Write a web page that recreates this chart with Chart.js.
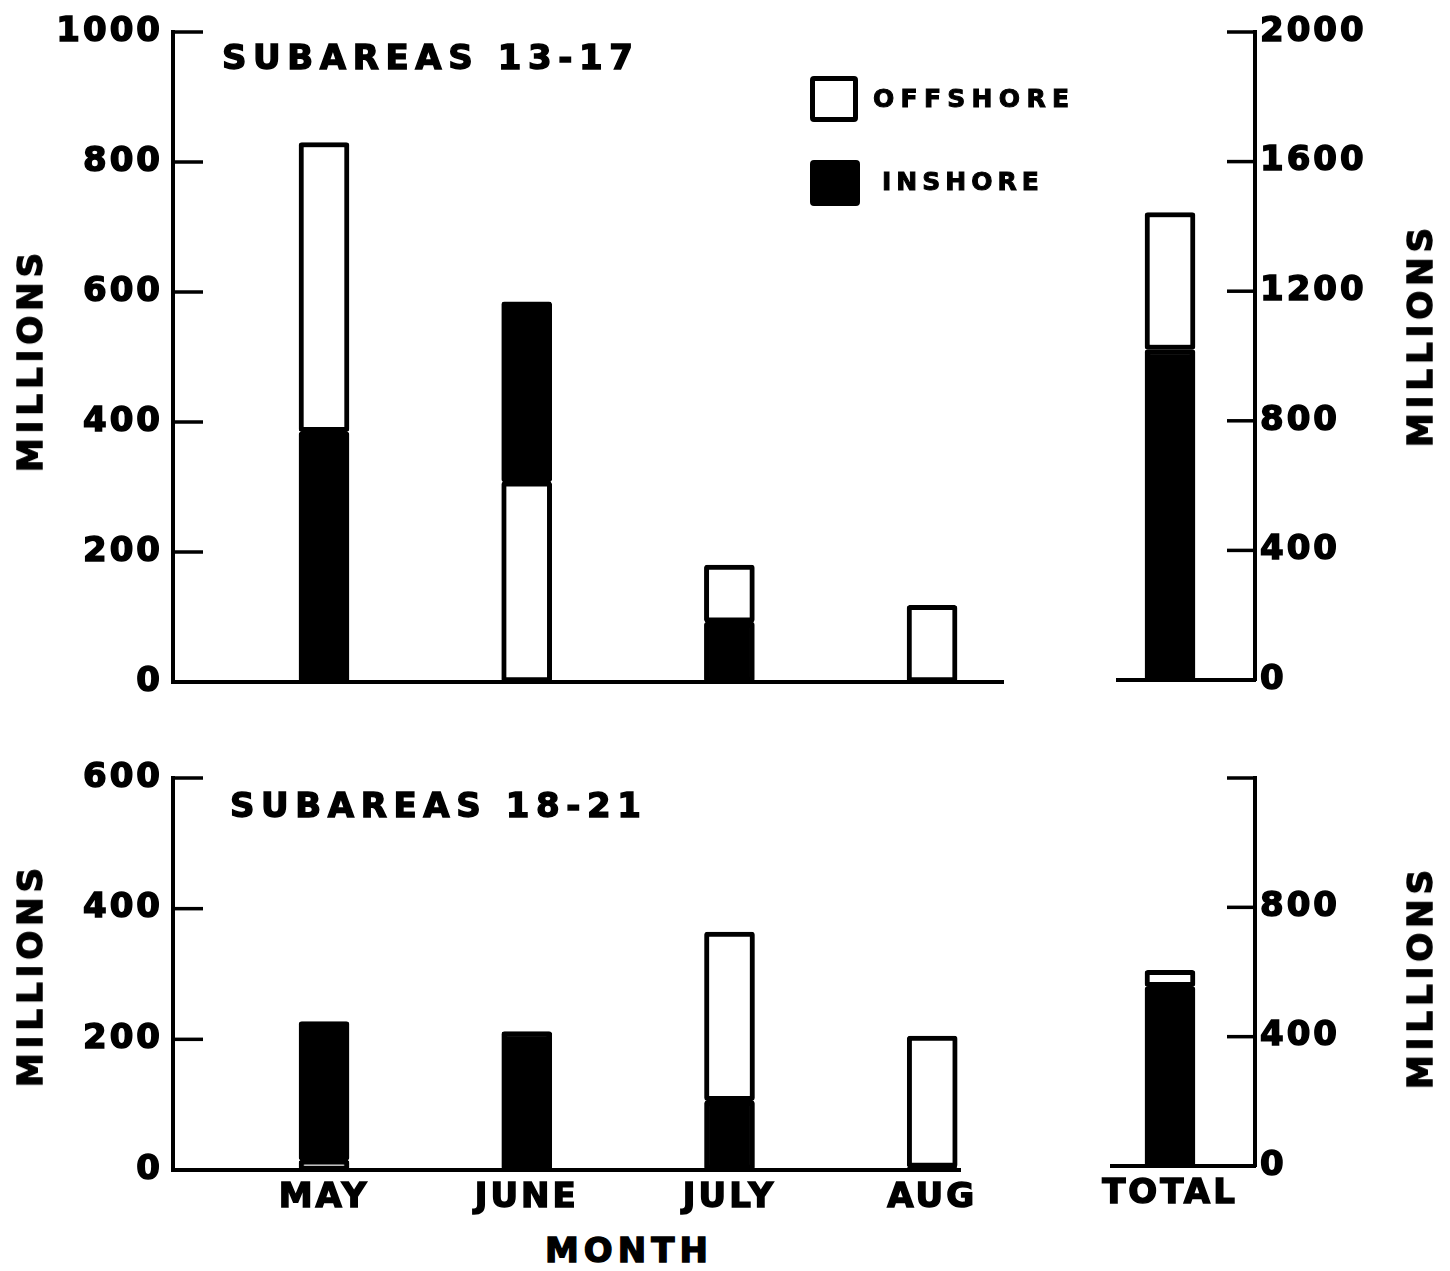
<!DOCTYPE html>
<html>
<head>
<meta charset="utf-8">
<script src="https://cdn.jsdelivr.net/npm/chart.js@4/dist/chart.umd.min.js"></script>
<style>
html,body{margin:0;padding:0;background:#fff;}
#wrap{position:relative;width:1450px;height:1271px;overflow:hidden;background:#fff;
  font-family:"DejaVu Sans",sans-serif;font-weight:bold;color:#000;}
canvas{position:absolute;}
.t{position:absolute;white-space:nowrap;line-height:1;-webkit-text-stroke:1.4px #000;}
.rot{transform:translate(-50%,-50%) rotate(-90deg);transform-origin:center center;}
.box{position:absolute;box-sizing:border-box;border:5px solid #000;border-radius:4px;}
</style>
</head>
<body>
<div id="wrap">
  <canvas id="c1" width="1010" height="720" style="left:0;top:0"></canvas>
  <canvas id="c2" width="360" height="720" style="left:1090px;top:0"></canvas>
  <canvas id="c3" width="1010" height="480" style="left:0;top:740px"></canvas>
  <canvas id="c4" width="410" height="480" style="left:1040px;top:740px"></canvas>

  <div class="t" style="left:222px;top:40px;font-size:34px;letter-spacing:6.6px">SUBAREAS 13-17</div>
  <div class="t" style="left:230px;top:788px;font-size:34px;letter-spacing:6.6px">SUBAREAS 18-21</div>

  <div class="box" style="left:810px;top:76px;width:48px;height:46px;background:#fff"></div>
  <div class="t" style="left:873px;top:86px;font-size:25px;letter-spacing:6.3px;-webkit-text-stroke:1px #000">OFFSHORE</div>
  <div class="box" style="left:810px;top:160px;width:50px;height:46px;background:#000"></div>
  <div class="t" style="left:882px;top:169px;font-size:25px;letter-spacing:5px;-webkit-text-stroke:1px #000">INSHORE</div>

  <div class="t rot" style="left:30px;top:360px;font-size:34px;letter-spacing:5px">MILLIONS</div>
  <div class="t rot" style="left:30px;top:975px;font-size:34px;letter-spacing:5px">MILLIONS</div>
  <div class="t rot" style="left:1420px;top:335px;font-size:34px;letter-spacing:5px">MILLIONS</div>
  <div class="t rot" style="left:1420px;top:977px;font-size:34px;letter-spacing:5px">MILLIONS</div>

  <div class="t" style="left:545px;top:1233px;font-size:34px;letter-spacing:5px">MONTH</div>
</div>

<script>
// ---------------- data (millions) ----------------
const months = ['MAY', 'JUNE', 'JULY', 'AUG'];
const totalLabel = 'TOTAL';

// Subareas 13-17, monthly (left axis)
const offshore1317 = [445, 308, 88, 118];
const inshore1317  = [385, 277, 92, 0];
const lower1317    = ['inshore', 'offshore', 'inshore', 'offshore'];
// Subareas 13-17, total (right axis)
const offshore1317Total = [423];
const inshore1317Total  = [1020];
const lower1317Total    = ['inshore'];

// Subareas 18-21, monthly (left axis)
const offshore1821 = [15, 0, 258, 201];
const inshore1821  = [212, 212, 106, 4];
const lower1821    = ['offshore', 'inshore', 'inshore', 'inshore'];
// Subareas 18-21, total (right axis)
const offshore1821Total = [50];
const inshore1821Total  = [555];
const lower1821Total    = ['inshore'];

// tick values
const leftTicksTop = [0, 200, 400, 600, 800, 1000];
const rightTicksTop = [0, 400, 800, 1200, 1600, 2000];
const leftTicksBottom = [0, 200, 400, 600];
const rightTicksBottom = [0, 400, 800, 1200];
const rightLabelsBottom = ['0', '400', '800', ''];

// ---------------- helpers ----------------
Chart.defaults.color = '#000';
Chart.defaults.font.family = '"DejaVu Sans", sans-serif';
Chart.defaults.font.weight = 'bold';

const tickFont = {family: '"DejaVu Sans", sans-serif', weight: 'bold', size: 34};

function floating(off, ins, lower) {
  const o = [], n = [];
  off.forEach((v, i) => {
    const w = ins[i];
    const x = i + 1;
    if (lower[i] === 'inshore') {
      if (w) n.push({x: x, y: [0, w]});
      if (v) o.push({x: x, y: [w, w + v]});
    } else {
      if (v) o.push({x: x, y: [0, v]});
      if (w) n.push({x: x, y: [v, v + w]});
    }
  });
  return {o, n};
}

function datasets(off, ins, lower) {
  const f = floating(off, ins, lower);
  const common = {borderColor: '#000', borderWidth: 5, borderSkipped: false,
    borderRadius: 3, barThickness: 50, grouped: false};
  return [
    Object.assign({label: 'OFFSHORE', data: f.o, backgroundColor: '#fff'}, common),
    Object.assign({label: 'INSHORE', data: f.n, backgroundColor: '#000'}, common)
  ];
}

const inwardTicks = {
  id: 'inwardTicks',
  afterDatasetsDraw(chart, args, opts) {
    const ctx = chart.ctx;
    const s = chart.scales.y;
    ctx.save();
    ctx.strokeStyle = '#000';
    ctx.lineWidth = 3.5;
    s.ticks.forEach(t => {
      if (t.value === 0) return;
      const y = s.getPixelForValue(t.value);
      const x0 = s.position === 'left' ? s.right : s.left;
      const x1 = s.position === 'left' ? x0 + opts.len : x0 - opts.len;
      ctx.beginPath();
      ctx.moveTo(x0, y);
      ctx.lineTo(x1, y);
      ctx.stroke();
    });
    ctx.restore();
  }
};

const spacing = {
  id: 'spacing',
  beforeLayout(chart, args, opts) { chart.ctx.letterSpacing = opts.px + 'px'; },
  beforeDraw(chart, args, opts) { chart.ctx.letterSpacing = opts.px + 'px'; }
};

function makeChart(id, cfg) {
  return new Chart(document.getElementById(id), {
    type: 'bar',
    data: {datasets: cfg.datasets},
    plugins: [inwardTicks, spacing],
    options: {
      responsive: false,
      animation: false,
      devicePixelRatio: 1,
      layout: {padding: cfg.padding},
      plugins: {
        legend: {display: false},
        tooltip: {enabled: false},
        inwardTicks: {len: cfg.tickLen},
        spacing: {px: 3}
      },
      scales: {
        x: {
          type: 'linear',
          offset: false,
          min: cfg.xMin,
          max: cfg.xMax,
          grid: {display: false, drawTicks: false, offset: false},
          border: {display: true, color: '#000', width: 4},
          ticks: {
            display: !!cfg.xLabels,
            font: tickFont,
            padding: 8,
            textStrokeColor: '#000',
            textStrokeWidth: 1.5,
            callback: (v) => cfg.xLabels ? (cfg.xLabels[v - 1] || '') : ''
          },
          afterBuildTicks: (s) => { s.ticks = cfg.xLabels ? cfg.xLabels.map((l, i) => ({value: i + 1})) : []; },
          afterFit: (s) => { s.height = cfg.xHeight; }
        },
        y: {
          position: cfg.yPos,
          min: 0,
          max: cfg.yTicks[cfg.yTicks.length - 1],
          grid: {display: false, drawTicks: false},
          border: {display: true, color: '#000', width: 4},
          ticks: {
            font: tickFont,
            padding: cfg.yPos === 'left' ? 10 : 5,
            textStrokeColor: '#000',
            textStrokeWidth: 1.5,
            callback: (v) => {
              const i = cfg.yTicks.indexOf(v);
              if (i < 0) return '';
              return cfg.yLabels ? cfg.yLabels[i] : String(v);
            }
          },
          afterBuildTicks: (s) => { s.ticks = cfg.yTicks.map(v => ({value: v})); },
          afterFit: (s) => { s.width = cfg.yWidth; }
        }
      }
    }
  });
}

// Top panel: months
makeChart('c1', {
  datasets: datasets(offshore1317, inshore1317, lower1317),
  padding: {left: 0, top: 32, right: 7, bottom: 38},
  xMin: 0.255, xMax: 4.35, xHeight: 0, xLabels: null,
  yPos: 'left', yTicks: leftTicksTop, yWidth: 173, tickLen: 30
});
// Top panel: total
makeChart('c2', {
  datasets: datasets(offshore1317Total, inshore1317Total, lower1317Total),
  padding: {left: 28, top: 32, right: 0, bottom: 40},
  xMin: 0, xMax: 2.634, xHeight: 0, xLabels: null,
  yPos: 'right', yTicks: rightTicksTop, yWidth: 195, tickLen: 28
});
// Bottom panel: months
makeChart('c3', {
  datasets: datasets(offshore1821, inshore1821, lower1821),
  padding: {left: 0, top: 38, right: 50, bottom: 0},
  xMin: 0.255, xMax: 4.137, xHeight: 50, xLabels: months,
  yPos: 'left', yTicks: leftTicksBottom, yWidth: 173, tickLen: 30
});
// Bottom panel: total
makeChart('c4', {
  datasets: datasets(offshore1821Total, inshore1821Total, lower1821Total),
  padding: {left: 72, top: 38, right: 0, bottom: 4},
  xMin: 0, xMax: 2.466, xHeight: 50, xLabels: [totalLabel],
  yPos: 'right', yTicks: rightTicksBottom, yLabels: rightLabelsBottom, yWidth: 195, tickLen: 28
});
</script>
</body>
</html>
